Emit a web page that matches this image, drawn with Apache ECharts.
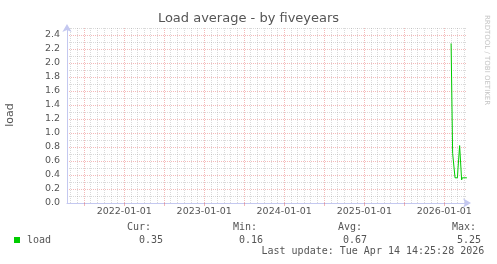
<!DOCTYPE html>
<html><head><meta charset="utf-8">
<script src="https://cdn.jsdelivr.net/npm/echarts@6/dist/echarts.min.js"></script>
<style>html,body{margin:0;padding:0;background:#fff}#c{width:497px;height:264px}</style>
</head><body><div id="c"></div>
<script>
const chartTitle = 'Load average - by fiveyears';
const yAxisName = 'load';
const seriesName = 'load';
const timeStart = '2021-04-14T14:25:28Z';
const timeEnd = '2026-04-14T14:25:28Z';
const loadTimes = ['2026-02-01','2026-02-06','2026-02-08','2026-02-15','2026-02-19','2026-03-02','2026-03-04','2026-03-10','2026-03-12','2026-03-19','2026-03-21','2026-03-24','2026-04-14'];
const loadValues = [2.28,2.28,0.71,0.71,0.36,0.36,0.47,0.47,0.82,0.82,0.33,0.36,0.36];
const yearTickLabels = ['2022-01-01','2023-01-01','2024-01-01','2025-01-01','2026-01-01'];
const halfYearTicks = ['2021-07-01','2022-01-01','2022-07-01','2023-01-01','2023-07-01','2024-01-01','2024-07-01','2025-01-01','2025-07-01','2026-01-01'];
const statHeaders = ['Cur:','Min:','Avg:','Max:'];
const statValues = ['0.35','0.16','0.67','5.25'];
const lastUpdate = 'Last update: Tue Apr 14 14:25:28 2026';
const watermark = 'RRDTOOL / TOBI OETIKER';

const t = s => Date.parse(s);
// monthly minor grid positions (excluding half-year major lines)
const monthTicks = [];
for (let y = 2021; y <= 2026; y++) {
  for (let m = 1; m <= 12; m++) {
    if (m === 1 || m === 7) continue;
    const v = Date.UTC(y, m - 1, 1);
    if (v > t(timeStart) && v < t(timeEnd)) monthTicks.push(v);
  }
}
const data = loadTimes.map((d, i) => [t(d), loadValues[i]]);

const txt = '#555';
const axisCol = '#c4c8f0';
const majorCol = 'rgba(225,70,70,0.38)';
const minorCol = 'rgba(150,150,150,0.35)';
const chart = echarts.init(document.getElementById('c'), null, {renderer: 'canvas'});

const statX = [127, 233, 338, 452];
const valX = [139, 239, 343, 457];
const graphics = [
  {type:'text', left:'center', top:12, style:{text:chartTitle, font:'13px "DejaVu Sans"', fill:txt}},
  {type:'text', x:10.5, y:115, rotation:Math.PI/2, style:{text:yAxisName, font:'11px "DejaVu Sans"', fill:txt, align:'center', verticalAlign:'middle'}},
  {type:'text', x:487, y:60, rotation:-Math.PI/2, style:{text:watermark, font:'7px "DejaVu Sans"', fill:'#c4c4c4', align:'center', verticalAlign:'middle'}},
  {type:'rect', shape:{x:14, y:237, width:6, height:6}, style:{fill:'#00cc00'}},
  {type:'text', x:27, y:240, style:{text:seriesName, font:'10px "DejaVu Sans Mono"', fill:txt, verticalAlign:'middle'}},
  {type:'text', x:261.5, y:251.5, style:{text:lastUpdate, font:'10px "DejaVu Sans Mono"', fill:txt, verticalAlign:'middle'}}
];
statHeaders.forEach((h, i) => {
  graphics.push({type:'text', x:statX[i], y:227, style:{text:h, font:'10px "DejaVu Sans Mono"', fill:txt, verticalAlign:'middle'}});
  graphics.push({type:'text', x:valX[i], y:240, style:{text:statValues[i], font:'10px "DejaVu Sans Mono"', fill:txt, verticalAlign:'middle'}});
});

chart.setOption({
  animation: false,
  backgroundColor: '#fff',
  grid: {left:67, right:30, top:28, bottom:61, containLabel:false},
  xAxis: [
    {
      type:'value', position:'bottom', min:t(timeStart), max:t(timeEnd),
      axisLine:{show:true, lineStyle:{color:axisCol, width:1}, symbol:['none','arrow'], symbolSize:[7,8], symbolOffset:[0,4]},
      axisTick:{show:true, customValues:halfYearTicks.map(t), length:3, lineStyle:{color:majorCol}},
      axisLabel:{customValues:yearTickLabels.map(t), formatter: v => { const d = new Date(v); return d.toISOString().slice(0,10); }, color:txt, fontFamily:'DejaVu Sans', fontSize:9.5, margin:4},
      splitLine:{show:true, lineStyle:{color:majorCol, type:[1,1], width:1}}
    },
    {
      type:'value', position:'top', min:t(timeStart), max:t(timeEnd),
      axisLine:{show:false}, axisLabel:{show:false},
      axisTick:{show:false, customValues:monthTicks},
      splitLine:{show:true, lineStyle:{color:minorCol, type:[1,1], width:1}}
    }
  ],
  yAxis: {
    type:'value', min:0, max:2.5, interval:0.1,
    axisLine:{show:true, lineStyle:{color:axisCol, width:1}, symbol:['none','arrow'], symbolSize:[7,8], symbolOffset:[0,4]},
    axisTick:{show:false},
    axisLabel:{color:txt, fontFamily:'DejaVu Sans', fontSize:9.5, margin:7,
      formatter: v => (Math.round(v*10) % 2 === 0 && Math.round(v*10) < 25) ? v.toFixed(1) : ''},
    splitLine:{show:true, lineStyle:{color:[majorCol, minorCol], type:[1,1], width:1}}
  },
  series: [{
    name: seriesName, type:'line', xAxisIndex:0, data:data, showSymbol:false,
    lineStyle:{color:'#00cc00', width:1}, itemStyle:{color:'#00cc00'}, z:5
  }],
  graphic: graphics
});
</script></body></html>
